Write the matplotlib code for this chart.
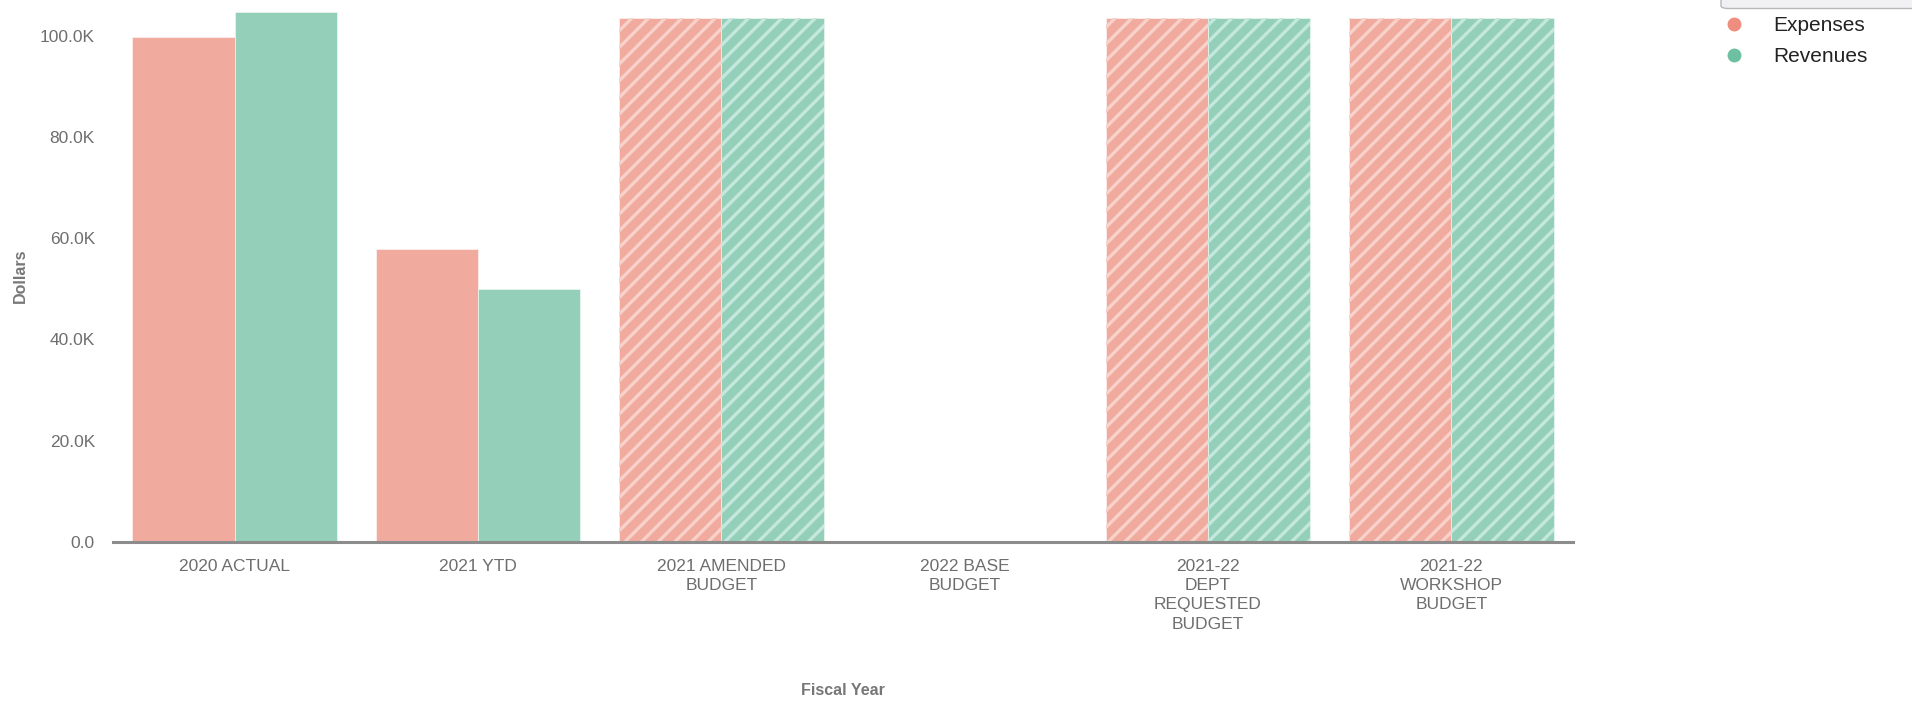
import numpy as np
import matplotlib
matplotlib.use("Agg")
import matplotlib.pyplot as plt
from matplotlib.lines import Line2D
from matplotlib.patches import FancyBboxPatch
from matplotlib.ticker import FuncFormatter

plt.rcParams['font.family'] = ['Liberation Sans', 'DejaVu Sans']
plt.rcParams['hatch.linewidth'] = 2.4

# fiscal year groups and dollar amounts
categories = ["2020 ACTUAL", "2021 YTD", "2021 AMENDED\nBUDGET", "2022 BASE\nBUDGET",
              "2021-22\nDEPT\nREQUESTED\nBUDGET", "2021-22\nWORKSHOP\nBUDGET"]
expenses = [99800, 57900, 103500, 0, 103500, 103500]
revenues = [104800, 50000, 103500, 0, 103500, 103500]
series_names = ["Expenses", "Revenues"]

bar_colors = ["#F0AA9E", "#94CFBA"]
stripe_colors = ["#F8D2CA", "#C4E8DB"]
marker_colors = ["#EE8E7E", "#6DC0A2"]
tick_color = "#6e6e6e"

fig = plt.figure(figsize=(19.12, 7.03), dpi=100)
ax = fig.add_axes([0.0591, 0.2294, 0.7636, 0.7554])

x = np.arange(len(categories))
w = 0.42
budget = np.array(["BUDGET" in c for c in categories])

for i, vals in enumerate([expenses, revenues]):
    vals = np.asarray(vals)
    pos = x - w / 2 + i * w
    ax.bar(pos, vals, w, color=bar_colors[i], edgecolor="#fbeeee" if i == 0 else "#e6f5ef",
           linewidth=0.6, zorder=2)
    # projected budgets get light diagonal stripes
    ax.bar(pos[budget], vals[budget], w, facecolor="none", edgecolor=stripe_colors[i],
           linewidth=0, hatch="//", zorder=3)

ax.set_xlim(-0.5, len(categories) - 0.5)
ax.set_ylim(0, 105000)
ax.set_yticks(np.arange(0, 100001, 20000))
ax.yaxis.set_major_formatter(FuncFormatter(lambda v, p: "0.0" if v == 0 else f"{v/1000:.1f}K"))
ax.set_xticks(x)
ax.set_xticklabels(categories, linespacing=1.35)

for s in ["top", "right", "left"]:
    ax.spines[s].set_visible(False)
ax.spines["bottom"].set_color("#8c8c8c")
ax.spines["bottom"].set_linewidth(2.2)
ax.spines["bottom"].set_zorder(4)

ax.tick_params(axis="both", length=0, labelsize=12.5, labelcolor=tick_color)
ax.tick_params(axis="y", pad=13)
ax.tick_params(axis="x", pad=12.5)

ax.set_ylabel("Dollars", fontsize=11.5, fontweight="bold", color="#777777")
ax.yaxis.set_label_coords(-0.058, 0.5)
ax.set_xlabel("Fiscal Year", fontsize=11.5, fontweight="bold", color="#777777")
ax.xaxis.set_label_coords(0.5, -0.266)

# legend in the top right corner
handles = [Line2D([], [], linestyle="none", marker="o", markersize=9,
                  markerfacecolor=c, markeredgecolor=c) for c in marker_colors]
fig.legend(handles, series_names, loc="upper left", bbox_to_anchor=(0.9013, 0.977),
           frameon=False, fontsize=15, handlelength=1.0, handletextpad=1.4,
           labelspacing=0.58, borderpad=0, borderaxespad=0, labelcolor="#222222")

# control box peeking in at the top edge
box = FancyBboxPatch((1721 / 1912, 0.9879), 0.2, 0.05, boxstyle="round,pad=0,rounding_size=0.004",
                     transform=fig.transFigure, facecolor="#f1f1f3", edgecolor="#b8b8bc",
                     linewidth=1.0, clip_on=False)
fig.patches.append(box)

fig.savefig("out.png", dpi=100)
